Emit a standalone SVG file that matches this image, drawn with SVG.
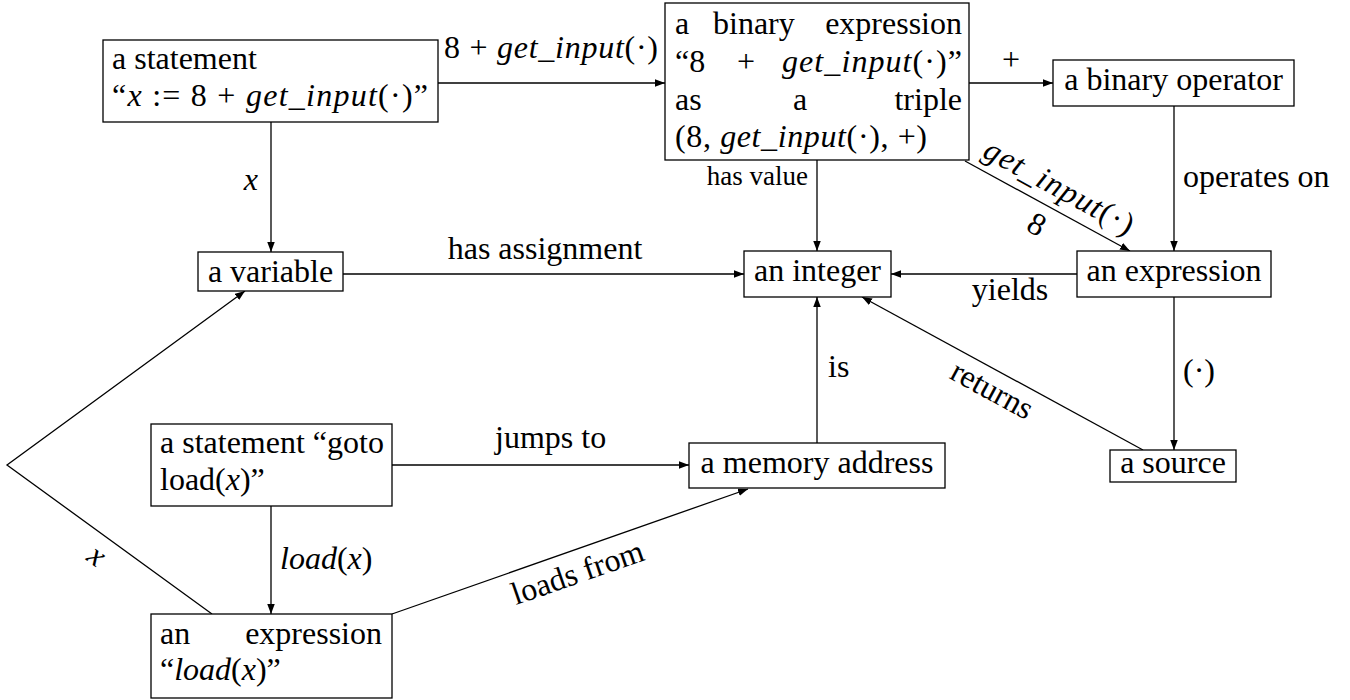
<svg xmlns="http://www.w3.org/2000/svg" width="1350" height="700" viewBox="0 0 1350 700">
<style>
.box{fill:#fff;stroke:#000;stroke-width:1.3}
.t{font-family:'Liberation Serif','Times New Roman','DejaVu Serif',serif;font-size:32px;fill:#000}
.s{font-size:27px}
.i{font-style:italic}
.m{text-anchor:middle}
.e{text-anchor:end}
.edge{fill:none;stroke:#000;stroke-width:1.3;marker-end:url(#ah)}
</style>
<defs>
<marker id="ah" markerUnits="userSpaceOnUse" markerWidth="12" markerHeight="10" refX="10" refY="3.75" orient="auto"><path d="M0,0 L10,3.75 L0,7.5 z" fill="#000"/></marker>
</defs>
<rect width="1350" height="700" fill="#fff"/>
<g id="connectors">
<path class="edge" d="M438,83 L665,83"/>
<path class="edge" d="M271,122 L271,252"/>
<path class="edge" d="M969,83 L1053,83"/>
<path class="edge" d="M817,160 L817,251"/>
<path class="edge" d="M965,161 L1130,251"/>
<path class="edge" d="M1174,106 L1174,251"/>
<path class="edge" d="M343,274 L744,274"/>
<path class="edge" d="M1077,274 L891,274"/>
<path class="edge" d="M1174,297 L1174,450"/>
<path class="edge" d="M1143,450 L862,297"/>
<path class="edge" d="M817,443 L817,297"/>
<path class="edge" d="M392,465 L689,465"/>
<path class="edge" d="M271,506 L271,614"/>
<path class="edge" d="M392,614 L748,489"/>
<path class="edge" d="M212,614 L7,465 L245,291"/>
<g class="t">
<text class="m" x="551" y="58" textLength="214">8 + <tspan class="i">get_input</tspan>(·)</text>
<text class="e i" x="258" y="190">x</text>
<text class="m" x="1011" y="70">+</text>
<text class="e s" x="808" y="185">has value</text>
<text class="m i" transform="translate(1058,189) rotate(28.6)" y="8" textLength="166">get_input<tspan font-style="normal">(·)</tspan></text>
<text class="m" transform="translate(1037,224) rotate(28.6)" y="11">8</text>
<text x="1183" y="187">operates on</text>
<text class="m" x="545" y="259">has assignment</text>
<text class="m" x="1010" y="300">yields</text>
<text x="1183" y="381">(·)</text>
<text class="m" transform="translate(991,392) rotate(28.6)" y="8">returns</text>
<text x="828" y="377">is</text>
<text x="495" y="448">jumps to</text>
<text x="280" y="569"><tspan class="i">load</tspan>(<tspan class="i">x</tspan>)</text>
<text class="m" transform="translate(578,574) rotate(-19.1)" y="9">loads from</text>
<text class="m i" transform="translate(95,558) rotate(36)" y="7">x</text>
</g>
</g>
<g id="statement" class="t">
<rect class="box" x="103" y="40" width="335" height="82"/>
<text x="112" y="69">a statement</text>
<text x="112" y="106" textLength="316">“<tspan class="i">x</tspan> := 8 + <tspan class="i">get_input</tspan>(·)”</text>
</g>
<g id="binary-expression" class="t">
<rect class="box" x="665" y="3" width="304" height="157"/>
<text x="675" y="34">a</text>
<text x="713" y="34">binary</text>
<text class="e" x="962" y="34">expression</text>
<text x="675" y="72">“8</text>
<text x="737" y="72">+</text>
<text x="782" y="72" textLength="180"><tspan class="i">get_input</tspan>(·)”</text>
<text x="675" y="110">as</text>
<text x="793" y="110">a</text>
<text class="e" x="962" y="110">triple</text>
<text x="675" y="147" textLength="252">(8, <tspan class="i">get_input</tspan>(·), +)</text>
</g>
<g id="binary-operator" class="t">
<rect class="box" x="1053" y="60" width="241" height="46"/>
<text class="m" x="1173.5" y="90">a binary operator</text>
</g>
<g id="variable" class="t">
<rect class="box" x="198" y="252" width="145" height="39"/>
<text class="m" x="270.5" y="282">a variable</text>
</g>
<g id="integer" class="t">
<rect class="box" x="744" y="251" width="147" height="46"/>
<text class="m" x="817.5" y="281">an integer</text>
</g>
<g id="expression" class="t">
<rect class="box" x="1077" y="251" width="194" height="46"/>
<text class="m" x="1174" y="281">an expression</text>
</g>
<g id="goto-statement" class="t">
<rect class="box" x="151" y="424" width="241" height="82"/>
<text x="160" y="453">a statement “goto</text>
<text x="160" y="490">load(<tspan class="i">x</tspan>)”</text>
</g>
<g id="memory-address" class="t">
<rect class="box" x="689" y="443" width="256" height="45"/>
<text class="m" x="817" y="473">a memory address</text>
</g>
<g id="source" class="t">
<rect class="box" x="1110" y="450" width="126" height="32"/>
<text class="m" x="1173" y="473">a source</text>
</g>
<g id="load-expression" class="t">
<rect class="box" x="151" y="614" width="241" height="84"/>
<text x="160" y="644">an</text>
<text class="e" x="382" y="644">expression</text>
<text x="160" y="680">“<tspan class="i">load</tspan>(<tspan class="i">x</tspan>)”</text>
</g>
</svg>
